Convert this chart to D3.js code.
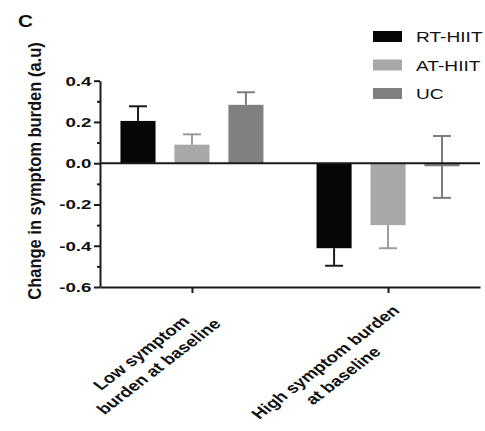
<!DOCTYPE html>
<html>
<head>
<meta charset="utf-8">
<script src="https://cdn.jsdelivr.net/npm/d3@7"></script>
<style>
  body { margin: 0; background: #fff; }
  svg { display: block; font-family: "Liberation Sans", Arial, sans-serif; }
</style>
</head>
<body>
<svg></svg>
<script>
var width = 485;
var height = 431;

// data
var categories = ["low", "high"];
var categoryLines = [["Low symptom", "burden at baseline"], ["High symptom burden", "at baseline"]];
var series = ["RT-HIIT", "AT-HIIT", "UC"];
var colors = ["#060606", "#a8a8a8", "#808080"];
var errColors = ["#1c1c1c", "#9c9c9c", "#7c7c7c"];
var means = [[0.205, 0.09, 0.283], [-0.412, -0.30, -0.015]];
var errUp = [[0.071, 0.05, 0.061], [0, 0, 0.147]];
var errDown = [[0, 0, 0], [0.085, 0.112, 0.153]];
var yMajor = [-0.6, -0.4, -0.2, 0.0, 0.2, 0.4];
var yMinor = [-0.5, -0.3, -0.1, 0.1, 0.3];

var plot = { left: 100, right: 480, top: 80.7, bottom: 287 };
var stretch = 1.3;   // the source figure is squashed sideways, text looks wide

var svg = d3.select('svg')
    .attr('width', width)
    .attr('height', height);

var y = d3.scaleLinear()
    .domain([-0.6, 0.4])
    .range([plot.bottom, plot.top]);

var x = d3.scalePoint()
    .domain(categories)
    .range([plot.left, plot.right])
    .padding(0.469);

var xs = d3.scaleBand()
    .domain(series)
    .range([-71.5, 71.5])
    .paddingInner(0.35);

// panel letter
svg.append('text')
    .attr('transform', 'translate(18,27) scale(1.25,1)')
    .attr('font-size', 16.5)
    .attr('font-weight', 'bold')
    .attr('fill', '#111')
    .text('C');

// y title
svg.append('text')
    .attr('transform', 'translate(41,171) scale(1.15,1) rotate(-90)')
    .attr('text-anchor', 'middle')
    .attr('font-size', 16.5)
    .attr('font-weight', 'bold')
    .attr('fill', '#111')
    .text('Change in symptom burden (a.u)');

// bars
var groups = svg.append('g').selectAll('g')
    .data(categories)
  .enter().append('g')
    .attr('transform', function(d) { return 'translate(' + x(d) + ',0)'; });

groups.each(function(c, ci) {
    var g = d3.select(this);
    var rows = series.map(function(s, si) {
        return { s: s, si: si, v: means[ci][si], up: errUp[ci][si], down: errDown[ci][si] };
    });

    g.selectAll('rect')
        .data(rows)
      .enter().append('rect')
        .attr('x', function(d) { return xs(d.s); })
        .attr('width', xs.bandwidth())
        .attr('y', function(d) { return y(Math.max(0, d.v)); })
        .attr('height', function(d) { return Math.abs(y(d.v) - y(0)); })
        .attr('fill', function(d) { return colors[d.si]; });

    var err = g.selectAll('g.err')
        .data(rows)
      .enter().append('g')
        .attr('class', 'err')
        .attr('stroke', function(d) { return errColors[d.si]; })
        .attr('stroke-width', 2);

    var cap = 9;
    err.append('line')
        .attr('x1', function(d) { return xs(d.s) + xs.bandwidth() / 2; })
        .attr('x2', function(d) { return xs(d.s) + xs.bandwidth() / 2; })
        .attr('y1', function(d) { return y(d.v + d.up); })
        .attr('y2', function(d) { return y(d.v - d.down); });
    err.filter(function(d) { return d.up > 0; }).append('line')
        .attr('x1', function(d) { return xs(d.s) + xs.bandwidth() / 2 - cap; })
        .attr('x2', function(d) { return xs(d.s) + xs.bandwidth() / 2 + cap; })
        .attr('y1', function(d) { return y(d.v + d.up); })
        .attr('y2', function(d) { return y(d.v + d.up); });
    err.filter(function(d) { return d.down > 0; }).append('line')
        .attr('x1', function(d) { return xs(d.s) + xs.bandwidth() / 2 - cap; })
        .attr('x2', function(d) { return xs(d.s) + xs.bandwidth() / 2 + cap; })
        .attr('y1', function(d) { return y(d.v - d.down); })
        .attr('y2', function(d) { return y(d.v - d.down); });
});

// zero line
svg.append('line')
    .attr('x1', plot.left).attr('x2', plot.right)
    .attr('y1', y(0)).attr('y2', y(0))
    .attr('stroke', '#1a1a1a')
    .attr('stroke-width', 2);

// y axis, major + minor ticks
var yAxis = svg.append('g')
    .attr('transform', 'translate(' + plot.left + ',0)')
    .call(d3.axisLeft(y).tickValues(yMajor).tickSize(6).tickSizeOuter(0)
        .tickFormat(function(d) { return d.toFixed(1); }));
svg.append('g')
    .attr('transform', 'translate(' + plot.left + ',0)')
    .call(d3.axisLeft(y).tickValues(yMinor).tickSize(3).tickSizeOuter(0).tickFormat(''))
    .select('.domain').remove();

// x axis
var xAxis = svg.append('g')
    .attr('transform', 'translate(0,' + plot.bottom + ')')
    .call(d3.axisBottom(x).tickSize(6).tickSizeOuter(0).tickFormat(''));

svg.selectAll('.domain, .tick line')
    .attr('stroke', '#1a1a1a')
    .attr('stroke-width', 2);

yAxis.selectAll('.tick text')
    .attr('x', null)
    .attr('dy', null)
    .attr('transform', 'translate(-8.5,4.5) scale(1.5,1)')
    .attr('font-size', 12.5)
    .attr('font-weight', 'bold')
    .attr('font-family', '"Liberation Sans", Arial, sans-serif')
    .attr('fill', '#111');

// rotated category labels
var fs = 14.5;
var lineH = 19;
categories.forEach(function(c, ci) {
    var lab = svg.append('g')
        .attr('transform', 'translate(' + (x(c) + 3) + ',' + (plot.bottom + 17) + ') scale(' + stretch + ',1) rotate(-45)');
    var texts = lab.selectAll('text')
        .data(categoryLines[ci])
      .enter().append('text')
        .attr('text-anchor', 'middle')
        .attr('font-size', fs)
        .attr('font-weight', 'bold')
        .attr('fill', '#111')
        .attr('y', function(d, i) { return fs * 0.72 + i * lineH; })
        .text(function(d) { return d; });
    var w = d3.max(texts.nodes(), function(n) { return n.getComputedTextLength(); });
    texts.attr('x', -w / 2);
});

// legend
var legend = svg.append('g').selectAll('g')
    .data(series)
  .enter().append('g')
    .attr('transform', function(d, i) { return 'translate(373,' + (31 + i * 28.5) + ')'; });

legend.append('rect')
    .attr('width', 29)
    .attr('height', 11)
    .attr('fill', function(d, i) { return colors[i]; });

legend.append('text')
    .attr('transform', 'translate(43,11) scale(1.32,1)')
    .attr('font-size', 14.5)
    .attr('fill', '#111')
    .text(function(d) { return d; });
</script>
</body>
</html>
